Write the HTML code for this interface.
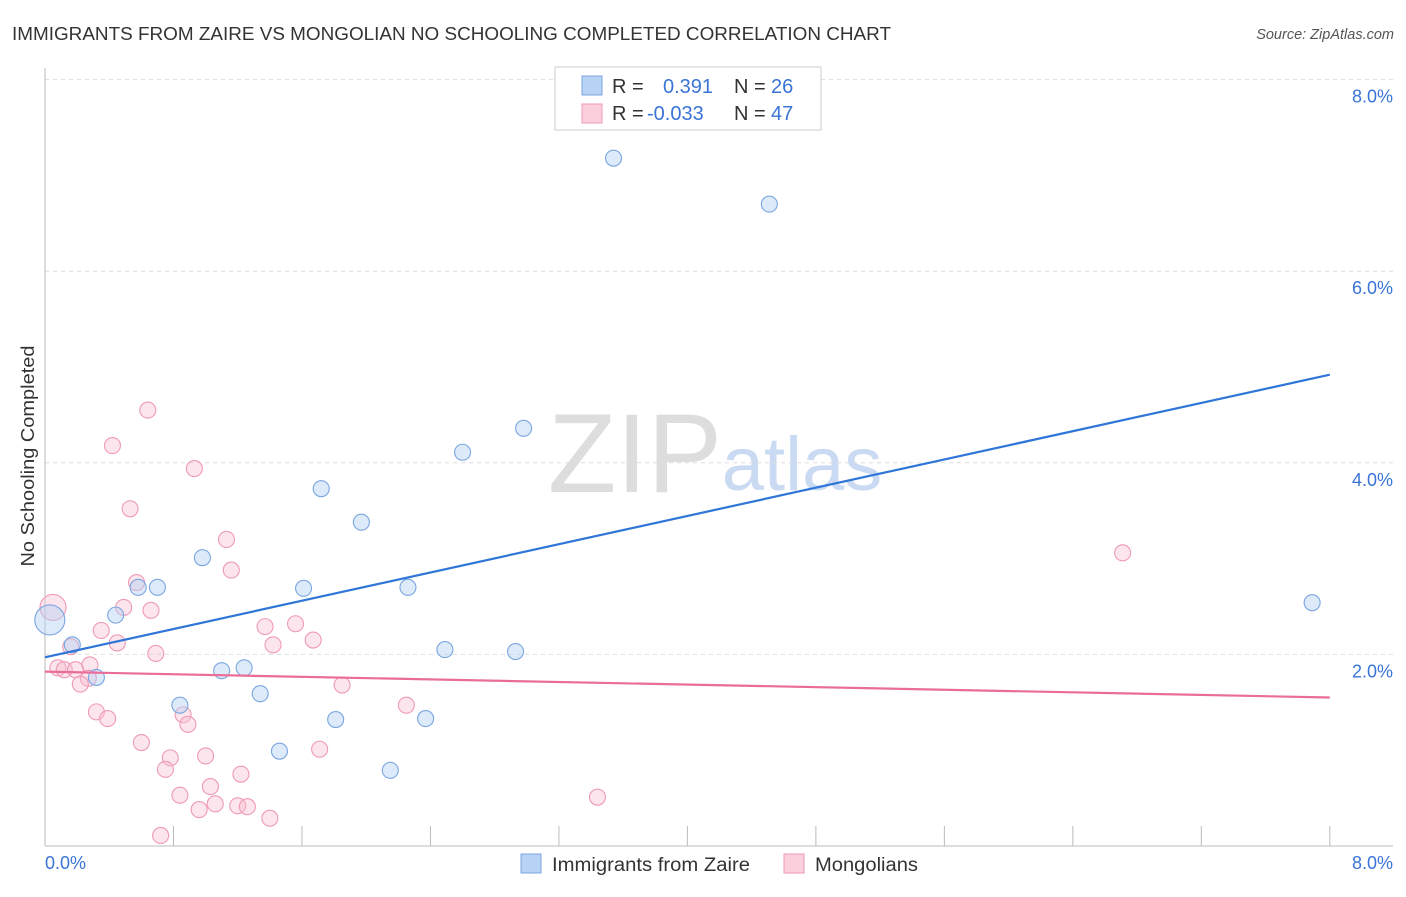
<!DOCTYPE html>
<html><head><meta charset="utf-8"><style>
body{margin:0;background:#fff;font-family:"Liberation Sans",sans-serif}
svg text{font-family:"Liberation Sans",sans-serif}
</style></head><body>
<svg id="chart" width="1406" height="892">
<text x="12" y="40" font-size="18" textLength="879" lengthAdjust="spacingAndGlyphs" fill="#333">IMMIGRANTS FROM ZAIRE VS MONGOLIAN NO SCHOOLING COMPLETED CORRELATION CHART</text>
<text x="1394" y="39" font-size="14.5" fill="#555" font-style="italic" text-anchor="end">Source: ZipAtlas.com</text>
<text transform="translate(34,456) rotate(-90)" font-size="18" textLength="221" lengthAdjust="spacingAndGlyphs" fill="#333" text-anchor="middle">No Schooling Completed</text>
<g><text x="635" y="492" font-size="112" fill="#ddd" font-family="Liberation Serif" text-anchor="middle">ZIP</text><text x="802" y="490" font-size="76" fill="#c9daf2" text-anchor="middle">atlas</text></g>
<g id="grid"></g><g id="axes"></g><g id="marks"></g>
<g>
<rect x="555" y="67" width="266" height="63" fill="#fff" stroke="#ccc"/>
<rect x="582" y="76" width="20" height="19" fill="#b8d3f5" stroke="#7aa6e0"/>
<rect x="582" y="104" width="20" height="19" fill="#fbcfdc" stroke="#ef9ab5"/>
<text x="612" y="93" font-size="20" fill="#333">R =</text><text x="663" y="93" font-size="20" fill="#3a74d6">0.391</text><text x="734" y="93" font-size="20" fill="#333">N =</text><text x="771" y="93" font-size="20" fill="#3a74d6">26</text>
<text x="612" y="120" font-size="20" fill="#333">R =</text><text x="647" y="120" font-size="20" fill="#3a74d6">-0.033</text><text x="734" y="120" font-size="20" fill="#333">N =</text><text x="771" y="120" font-size="20" fill="#3a74d6">47</text>
</g>
<g>
<rect x="521" y="854" width="20" height="19" fill="#b8d3f5" stroke="#7aa6e0"/><text x="552" y="871" font-size="19" textLength="198" lengthAdjust="spacingAndGlyphs" fill="#333">Immigrants from Zaire</text>
<rect x="784" y="854" width="20" height="19" fill="#fbcfdc" stroke="#ef9ab5"/><text x="815" y="871" font-size="19" textLength="103" lengthAdjust="spacingAndGlyphs" fill="#333">Mongolians</text>
</g>
</svg>
<script>
const yTicks=[2,4,6,8];
const blueX=[3.54,4.51,2.98,2.60,1.72,1.97,0.98,0.58,0.70,1.61,2.26,0.44,0.17,0.32,1.10,1.24,2.49,2.93,7.89,0.84,1.34,1.81,2.37,1.46,2.15,0.03];
const blueY=[7.18,6.70,4.36,4.11,3.73,3.38,3.01,2.70,2.70,2.69,2.70,2.41,2.10,1.76,1.83,1.86,2.05,2.03,2.54,1.47,1.59,1.32,1.33,0.99,0.79,2.36];
const pinkX=[0.64,0.42,0.93,0.53,1.13,1.16,0.57,0.49,0.66,1.37,1.56,0.35,0.45,1.42,1.67,0.16,0.69,0.28,0.08,0.12,0.19,0.27,0.22,1.85,6.71,0.32,0.39,0.86,0.89,2.25,0.60,0.78,1.00,1.71,0.75,1.22,1.03,0.84,1.06,1.20,1.26,0.96,1.40,3.44,0.72,0.05];
const pinkY=[4.55,4.18,3.94,3.52,3.20,2.88,2.75,2.49,2.46,2.29,2.32,2.25,2.12,2.10,2.15,2.08,2.01,1.89,1.86,1.84,1.84,1.75,1.69,1.68,3.06,1.40,1.33,1.37,1.27,1.47,1.08,0.92,0.94,1.01,0.80,0.75,0.62,0.53,0.44,0.42,0.41,0.38,0.29,0.51,0.11,2.49];
const blueTrend=[1.97,4.92];
const pinkTrend=[1.82,1.55];
const X=v=>45+v*160.6, Y=v=>846-v*95.8;
const NS="http://www.w3.org/2000/svg";
function mk(t,a,p){const e=document.createElementNS(NS,t);for(const k in a)e.setAttribute(k,a[k]);p.appendChild(e);return e;}
const grid=document.getElementById('grid'),axes=document.getElementById('axes'),marks=document.getElementById('marks');
yTicks.forEach(t=>{
 const l=mk('line',{x1:45,x2:1393,y1:Y(t),y2:Y(t),stroke:'#ddd','stroke-dasharray':'4,4'},grid);
 
 
 const tx=mk('text',{x:1393,y:Y(t)+23,'font-size':18,fill:'#3a74d6','text-anchor':'end'},axes);
 tx.textContent=t.toFixed(1)+'%';
 
 
});
mk('line',{x1:45,x2:45,y1:68,y2:846,stroke:'#bbb'},axes);
mk('line',{x1:45,x2:1393,y1:846,y2:846,stroke:'#bbb'},axes);
for(let i=0;i<=10;i++){const l=mk('line',{x1:X(i*0.8),x2:X(i*0.8),y1:826,y2:846,stroke:'#bbb'},axes);
 
 }
const x0=mk('text',{x:45,y:869,'font-size':18,fill:'#3a74d6'},axes);x0.textContent='0.0%';


const x1=mk('text',{x:1393,y:869,'font-size':18,fill:'#3a74d6','text-anchor':'end'},axes);x1.textContent='8.0%';


pinkX.forEach((v,i)=>{const big=i===pinkX.length-1;const c=mk('circle',{cx:X(v),cy:Y(pinkY[i]),r:big?13:8,fill:'rgba(248,190,208,0.4)',stroke:'#ef9ab5','stroke-width':1.1},marks);
 
 });
blueX.forEach((v,i)=>{const big=i===blueX.length-1;const c=mk('circle',{cx:X(v),cy:Y(blueY[i]),r:big?15:8,fill:'rgba(180,208,245,0.45)',stroke:'#7aa6e0','stroke-width':1.1},marks);
 
 });
const bl=mk('line',{x1:X(0),x2:X(8),y1:Y(blueTrend[0]),y2:Y(blueTrend[1]),stroke:'#2f76d8','stroke-width':2.2},marks);


const pl=mk('line',{x1:X(0),x2:X(8),y1:Y(pinkTrend[0]),y2:Y(pinkTrend[1]),stroke:'#ea6d98','stroke-width':2.2},marks);


</script>
</body></html>
